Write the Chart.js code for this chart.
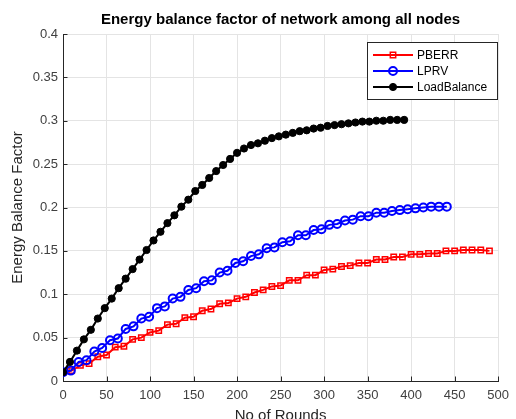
<!DOCTYPE html>
<html>
<head>
<meta charset="utf-8">
<title>Energy balance factor</title>
<script src="https://cdn.jsdelivr.net/npm/chart.js@4.4.0/dist/chart.umd.min.js"></script>
<style>
  html, body { margin: 0; padding: 0; background: #fff; }
  #graph { display: block; }
</style>
</head>
<body>
<canvas id="graph" width="516" height="419"></canvas>
<script>
var FONT = "'Liberation Sans', Arial, Helvetica, sans-serif";

// rounds at which each protocol was sampled
var pberrRounds = [0,10,20,30,40,50,60,70,80,90,100,110,120,130,140,150,160,170,180,190,200,210,220,230,240,250,260,270,280,290,300,310,320,330,340,350,360,370,380,390,400,410,420,430,440,450,460,470,480,490];
var lprvRounds = [0,9,18,27,36,45,54,63,72,81,90,99,108,117,126,135,144,153,162,171,180,189,198,207,216,225,234,243,252,261,270,279,288,297,306,315,324,333,342,351,360,369,378,387,396,405,414,423,432,441];
var loadRounds = [0,8,16,24,32,40,48,56,64,72,80,88,96,104,112,120,128,136,144,152,160,168,176,184,192,200,208,216,224,232,240,248,256,264,272,280,288,296,304,312,320,328,336,344,352,360,368,376,384,392];

// energy balance factor per protocol
var pberrValues = [0.010,0.012,0.018,0.020,0.028,0.030,0.039,0.040,0.048,0.050,
                   0.056,0.058,0.065,0.066,0.073,0.074,0.081,0.083,0.089,0.090,
                   0.095,0.097,0.102,0.105,0.109,0.110,0.116,0.116,0.122,0.122,
                   0.128,0.129,0.132,0.133,0.136,0.136,0.140,0.140,0.143,0.143,
                   0.146,0.146,0.147,0.147,0.150,0.150,0.151,0.151,0.151,0.150];
var lprvValues = [0.010,0.012,0.022,0.024,0.034,0.038,0.047,0.049,0.060,0.063,
                  0.072,0.074,0.084,0.086,0.095,0.097,0.105,0.107,0.115,0.116,
                  0.125,0.127,0.136,0.138,0.144,0.146,0.153,0.154,0.160,0.161,
                  0.168,0.168,0.174,0.175,0.180,0.181,0.185,0.186,0.190,0.190,
                  0.194,0.194,0.196,0.197,0.198,0.199,0.200,0.201,0.201,0.201];
var loadValues = [0.010,0.022,0.035,0.048,0.059,0.072,0.084,0.095,0.107,0.118,
                  0.129,0.140,0.151,0.162,0.172,0.182,0.191,0.201,0.209,0.219,
                  0.226,0.234,0.242,0.249,0.256,0.263,0.268,0.272,0.274,0.277,
                  0.280,0.282,0.284,0.286,0.288,0.289,0.291,0.292,0.294,0.295,
                  0.296,0.297,0.298,0.299,0.299,0.300,0.300,0.301,0.301,0.301];

var seriesNames = ['PBERR', 'LPRV', 'LoadBalance'];
var yTicks = [0, 0.05, 0.1, 0.15, 0.2, 0.25, 0.3, 0.35, 0.4];
var xTicks = [0, 50, 100, 150, 200, 250, 300, 350, 400, 450, 500];

function toPoints(xs, ys) {
    return xs.map(function(x, i) { return { x: x, y: ys[i] }; });
}

// title, inward tick marks and the boxed legend are drawn by hand
var decorations = {
    id: 'decorations',
    beforeDatasetsDraw: function(chart) {
        var ctx = chart.ctx, area = chart.chartArea;
        var xs = chart.scales.x, ys = chart.scales.y;
        ctx.save();
        ctx.strokeStyle = '#262626';
        ctx.lineWidth = 1;
        ctx.beginPath();
        yTicks.forEach(function(v) {
            var py = Math.round(ys.getPixelForValue(v)) + 0.5;
            ctx.moveTo(area.left, py);
            ctx.lineTo(area.left + 4.5, py);
        });
        xTicks.forEach(function(v) {
            var px = Math.round(xs.getPixelForValue(v)) + 0.5;
            ctx.moveTo(px, area.bottom);
            ctx.lineTo(px, area.bottom - 4.5);
        });
        ctx.stroke();
        ctx.restore();
    },
    afterDraw: function(chart) {
        var ctx = chart.ctx, area = chart.chartArea;
        ctx.save();

        ctx.fillStyle = '#000';
        ctx.font = 'bold 15px ' + FONT;
        ctx.textAlign = 'center';
        ctx.textBaseline = 'middle';
        ctx.fillText('Energy balance factor of network among all nodes', (area.left + area.right) / 2, 20);

        // legend
        var bx = 367.5, by = 42.5, bw = 130, bh = 57;
        ctx.fillStyle = '#fff';
        ctx.fillRect(bx, by, bw, bh);
        ctx.strokeStyle = '#262626';
        ctx.lineWidth = 1;
        ctx.strokeRect(bx, by, bw, bh);

        var rows = [55, 71, 87];
        seriesNames.forEach(function(name, i) {
            var ds = chart.data.datasets.filter(function(d) { return d.label === name; })[0];
            var y = rows[i];
            ctx.strokeStyle = ds.borderColor;
            ctx.lineWidth = ds.borderWidth;
            ctx.beginPath();
            ctx.moveTo(373, y);
            ctx.lineTo(413, y);
            ctx.stroke();

            ctx.lineWidth = ds.pointBorderWidth;
            ctx.beginPath();
            if (ds.pointStyle === 'rect') {
                var s = Math.SQRT1_2 * ds.pointRadius;
                ctx.rect(393 - s, y - s, 2 * s, 2 * s);
                ctx.stroke();
            } else {
                ctx.arc(393, y, ds.pointRadius, 0, Math.PI * 2);
                if (ds.pointBackgroundColor !== 'transparent') {
                    ctx.fillStyle = ds.pointBackgroundColor;
                    ctx.fill();
                }
                ctx.stroke();
            }

            ctx.fillStyle = '#000';
            ctx.font = '12px ' + FONT;
            ctx.textAlign = 'left';
            ctx.textBaseline = 'middle';
            ctx.fillText(name, 417, y + 0.5);
        });
        ctx.restore();
    }
};

var ctx = document.getElementById('graph').getContext('2d');
var chart = new Chart(ctx, {
    type: 'line',
    data: {
        datasets: [{
            label: 'LoadBalance',
            data: toPoints(loadRounds, loadValues),
            borderColor: '#000000',
            borderWidth: 2,
            pointStyle: 'circle',
            pointRadius: 3.6,
            pointBorderWidth: 1,
            pointBorderColor: '#000000',
            pointBackgroundColor: '#000000'
        }, {
            label: 'LPRV',
            data: toPoints(lprvRounds, lprvValues),
            borderColor: '#0000ff',
            borderWidth: 2,
            pointStyle: 'circle',
            pointRadius: 4,
            pointBorderWidth: 2,
            pointBorderColor: '#0000ff',
            pointBackgroundColor: 'transparent'
        }, {
            label: 'PBERR',
            data: toPoints(pberrRounds, pberrValues),
            borderColor: '#ff0000',
            borderWidth: 2,
            pointStyle: 'rect',
            pointRadius: 3.8,
            pointBorderWidth: 1.5,
            pointBorderColor: '#ff0000',
            pointBackgroundColor: 'transparent'
        }]
    },
    options: {
        responsive: false,
        animation: false,
        events: [],
        layout: { padding: { top: 34, right: 13, left: 0, bottom: 0 } },
        elements: { line: { tension: 0, fill: false } },
        plugins: {
            legend: { display: false },
            title: { display: false },
            tooltip: { enabled: false }
        },
        scales: {
            x: {
                type: 'linear',
                min: 0,
                max: 500,
                afterFit: function(scale) { scale.height = 38; },
                afterBuildTicks: function(scale) {
                    scale.ticks = xTicks.map(function(v) { return { value: v }; });
                },
                grid: { color: '#e4e4e4', drawTicks: false },
                border: { color: '#262626', width: 1 },
                ticks: {
                    autoSkip: false,
                    maxRotation: 0,
                    padding: 7,
                    color: '#404040',
                    font: { family: FONT, size: 13 }
                },
                title: {
                    display: true,
                    text: 'No of Rounds',
                    color: '#262626',
                    font: { family: FONT, size: 15 },
                    padding: { top: 0, bottom: -6 }
                }
            },
            y: {
                type: 'linear',
                min: 0,
                max: 0.4,
                afterFit: function(scale) { scale.width = 63; },
                afterBuildTicks: function(scale) {
                    scale.ticks = yTicks.map(function(v) { return { value: v }; });
                },
                grid: { color: '#e4e4e4', drawTicks: false },
                border: { color: '#262626', width: 1 },
                ticks: {
                    padding: 5,
                    color: '#404040',
                    font: { family: FONT, size: 13 },
                    callback: function(v) { return String(+v.toFixed(2)); }
                },
                title: {
                    display: true,
                    text: 'Energy Balance Factor',
                    color: '#262626',
                    font: { family: FONT, size: 15 },
                    padding: { top: 9, bottom: 0 }
                }
            }
        }
    },
    plugins: [decorations]
});
</script>
</body>
</html>
